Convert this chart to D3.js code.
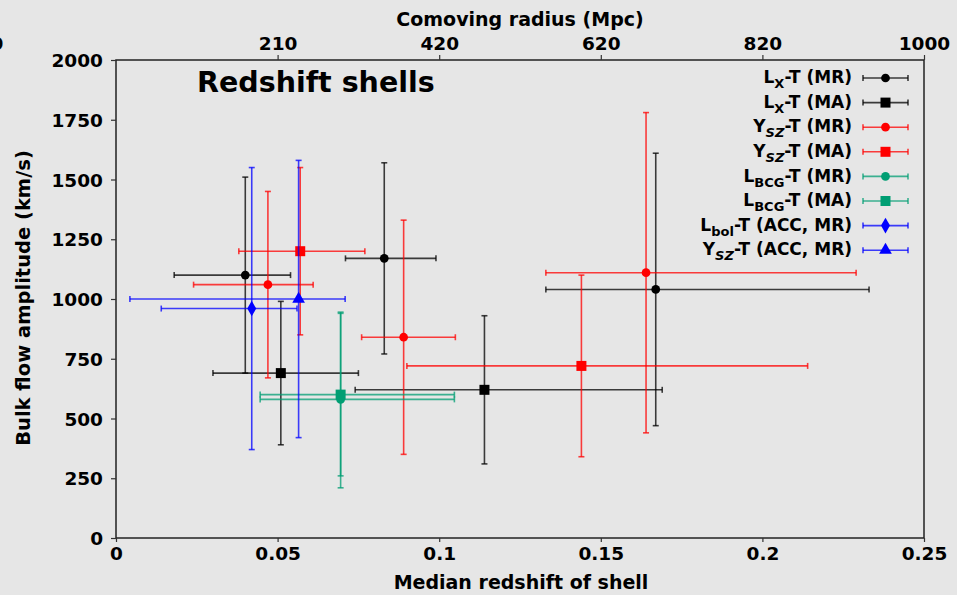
<!DOCTYPE html>
<html>
<head>
<meta charset="utf-8">
<script src="https://cdn.jsdelivr.net/npm/d3@7"></script>
<style>
  body { margin: 0; background: #e6e6e6; }
  svg text { font-family: "DejaVu Sans", Verdana, sans-serif; font-weight: bold; fill: #000; }
</style>
</head>
<body>
<div id="chart"></div>
<script>
// each row: [z, v, zLow, zHigh, vLow, vHigh]
const lxMR  = [[0.040, 1100, 0.018, 0.054, 690, 1510],
               [0.083, 1170, 0.071, 0.099, 770, 1570],
               [0.167, 1040, 0.133, 0.233, 470, 1610]];
const lxMA  = [[0.051, 690, 0.030, 0.075, 390, 990],
               [0.114, 620, 0.074, 0.169, 310, 930]];
const yszMR = [[0.047, 1060, 0.024, 0.061, 670, 1450],
               [0.089, 840, 0.076, 0.105, 350, 1330],
               [0.164, 1110, 0.133, 0.229, 440, 1780]];
const yszMA = [[0.057, 1200, 0.038, 0.077, 850, 1550],
               [0.144, 720, 0.090, 0.214, 340, 1100]];
const lbcgMR = [[0.0695, 580, 0.0446, 0.1047, 210, 940]];
const lbcgMA = [[0.0695, 600, 0.0446, 0.1047, 260, 945]];
const lbolACC = [[0.042, 960, 0.014, 0.056, 370, 1550]];
const yszACC  = [[0.0565, 1000, 0.0043, 0.0709, 420, 1580]];

const xTicks = [0, 0.05, 0.1, 0.15, 0.2, 0.25];
const yTicks = [0, 250, 500, 750, 1000, 1250, 1500, 1750, 2000];
const topTicks = [0.05, 0.1, 0.15, 0.2, 0.25];
const topLabels = ["210", "420", "620", "820", "1000"];

const series = [
  { main: "L", sub: "X",   subItalic: false, rest: "-T (MR)",       data: lxMR,    color: "#000000", symbol: d3.symbolCircle,   size: 60 },
  { main: "L", sub: "X",   subItalic: false, rest: "-T (MA)",       data: lxMA,    color: "#000000", symbol: d3.symbolSquare,   size: 100 },
  { main: "Y", sub: "SZ",  subItalic: true,  rest: "-T (MR)",       data: yszMR,   color: "#ff0000", symbol: d3.symbolCircle,   size: 60 },
  { main: "Y", sub: "SZ",  subItalic: true,  rest: "-T (MA)",       data: yszMA,   color: "#ff0000", symbol: d3.symbolSquare,   size: 100 },
  { main: "L", sub: "BCG", subItalic: false, rest: "-T (MR)",       data: lbcgMR,  color: "#009e73", symbol: d3.symbolCircle,   size: 60 },
  { main: "L", sub: "BCG", subItalic: false, rest: "-T (MA)",       data: lbcgMA,  color: "#009e73", symbol: d3.symbolSquare,   size: 100 },
  { main: "L", sub: "bol", subItalic: false, rest: "-T (ACC, MR)",  data: lbolACC, color: "#0000ff", symbol: d3.symbolDiamond,  size: 70 },
  { main: "Y", sub: "SZ",  subItalic: true,  rest: "-T (ACC, MR)",  data: yszACC,  color: "#0000ff", symbol: d3.symbolTriangle, size: 70 }
];

const width = 957, height = 595;
const margin = { top: 60, right: 33, bottom: 57, left: 116 };

const svg = d3.select("#chart").append("svg")
  .attr("width", width)
  .attr("height", height);

svg.append("rect").attr("width", width).attr("height", height).attr("fill", "#e6e6e6");

const x = d3.scaleLinear().domain([0, 0.25]).range([margin.left, width - margin.right]);
const y = d3.scaleLinear().domain([0, 2000]).range([height - margin.bottom, margin.top]);

// frame
svg.append("rect")
  .attr("x", margin.left).attr("y", margin.top)
  .attr("width", x(0.25) - x(0)).attr("height", y(0) - y(2000))
  .attr("fill", "none").attr("stroke", "#222").attr("stroke-width", 1.5);

// axes
const xAxis = svg.append("g")
  .attr("transform", "translate(0," + y(0) + ")")
  .call(d3.axisBottom(x).tickValues(xTicks).tickFormat(d3.format("")).tickSize(4).tickPadding(5));
const yAxis = svg.append("g")
  .attr("transform", "translate(" + x(0) + ",0)")
  .call(d3.axisLeft(y).tickValues(yTicks).tickFormat(d3.format("d")).tickSize(5).tickPadding(8));
const topAxis = svg.append("g")
  .attr("transform", "translate(0," + y(2000) + ")")
  .call(d3.axisTop(x).tickValues(topTicks).tickFormat((d, i) => topLabels[i]).tickSize(5).tickPadding(5));

[xAxis, yAxis, topAxis].forEach(g => {
  g.select(".domain").remove();
  g.selectAll("line").attr("stroke", "#333").attr("stroke-width", 1.2);
  g.selectAll("text").style("font-size", "18.5px").attr("fill", "#000");
});
yAxis.selectAll("text").attr("dy", "0.36em");

// stray "0" on the comoving axis
svg.append("text")
  .text("0")
  .attr("x", -3)
  .attr("y", 50)
  .attr("text-anchor", "middle")
  .style("font-size", "18.5px");

// axis titles
svg.append("text")
  .text("Comoving radius (Mpc)")
  .attr("x", 520).attr("y", 26)
  .attr("text-anchor", "middle")
  .style("font-size", "19px");

svg.append("text")
  .text("Median redshift of shell")
  .attr("x", 521).attr("y", 589)
  .attr("text-anchor", "middle")
  .style("font-size", "19px");

svg.append("text")
  .text("Bulk flow amplitude (km/s)")
  .attr("transform", "translate(30,298) rotate(-90)")
  .attr("text-anchor", "middle")
  .style("font-size", "19.5px");

// title
svg.append("text")
  .text("Redshift shells")
  .attr("x", 197).attr("y", 92)
  .style("font-size", "28.5px");

// error bars and markers
const cap = 3;
series.forEach(s => {
  const g = svg.append("g");
  const bars = g.selectAll("g.bar").data(s.data).enter().append("g")
    .attr("stroke", s.color)
    .attr("stroke-opacity", 0.75)
    .attr("stroke-width", 1.6);
  // horizontal
  bars.append("line")
    .attr("x1", d => x(d[2])).attr("x2", d => x(d[3]))
    .attr("y1", d => y(d[1])).attr("y2", d => y(d[1]));
  bars.append("line")
    .attr("x1", d => x(d[2])).attr("x2", d => x(d[2]))
    .attr("y1", d => y(d[1]) - cap).attr("y2", d => y(d[1]) + cap);
  bars.append("line")
    .attr("x1", d => x(d[3])).attr("x2", d => x(d[3]))
    .attr("y1", d => y(d[1]) - cap).attr("y2", d => y(d[1]) + cap);
  // vertical
  bars.append("line")
    .attr("x1", d => x(d[0])).attr("x2", d => x(d[0]))
    .attr("y1", d => y(d[4])).attr("y2", d => y(d[5]));
  bars.append("line")
    .attr("x1", d => x(d[0]) - cap).attr("x2", d => x(d[0]) + cap)
    .attr("y1", d => y(d[4])).attr("y2", d => y(d[4]));
  bars.append("line")
    .attr("x1", d => x(d[0]) - cap).attr("x2", d => x(d[0]) + cap)
    .attr("y1", d => y(d[5])).attr("y2", d => y(d[5]));
  g.selectAll("path.marker").data(s.data).enter().append("path")
    .attr("class", "marker")
    .attr("d", d3.symbol().type(s.symbol).size(s.size))
    .attr("transform", d => "translate(" + x(d[0]) + "," + y(d[1]) + ")")
    .attr("fill", s.color);
});

// legend
const legend = svg.append("g");
const rowY = i => 78 + i * 24.6;
series.forEach((s, i) => {
  const row = legend.append("g").attr("transform", "translate(0," + rowY(i) + ")");
  const t = row.append("text")
    .attr("x", 852).attr("y", 0).attr("dy", "0.3em")
    .attr("text-anchor", "end")
    .style("font-size", "17px");
  t.append("tspan").text(s.main);
  t.append("tspan").text(s.sub)
    .attr("dy", 5)
    .style("font-size", "13px")
    .style("font-style", s.subItalic ? "italic" : "normal");
  t.append("tspan").text(s.rest).attr("dy", -5);
  const lg = row.append("g").attr("stroke", s.color).attr("stroke-opacity", 0.75).attr("stroke-width", 1.6);
  lg.append("line").attr("x1", 863).attr("x2", 908).attr("y1", 0).attr("y2", 0);
  lg.append("line").attr("x1", 863).attr("x2", 863).attr("y1", -cap).attr("y2", cap);
  lg.append("line").attr("x1", 908).attr("x2", 908).attr("y1", -cap).attr("y2", cap);
  row.append("path")
    .attr("d", d3.symbol().type(s.symbol).size(s.size))
    .attr("transform", "translate(885.5,0)")
    .attr("fill", s.color);
});
</script>
</body>
</html>
